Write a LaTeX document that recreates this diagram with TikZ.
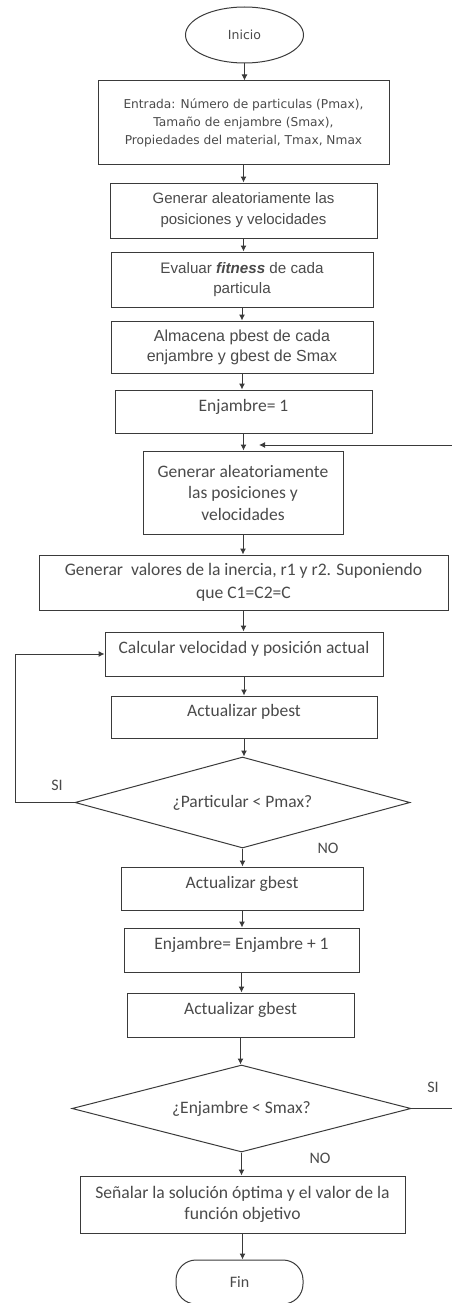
\documentclass[tikz,border=0pt]{standalone}
\usepackage{fontspec}
\setmainfont{Carlito}
\newfontfamily\arialf{Liberation Sans}
\newfontfamily\dejavuf{DejaVu Sans}
\usetikzlibrary{arrows.meta,shapes.geometric}
\definecolor{ln}{HTML}{3A3A3A}
\definecolor{tx}{HTML}{4A4A4A}
\tikzset{
  box/.style={draw=ln, line width=1pt, rectangle, align=center, inner sep=0pt, text=tx, font=\fontsize{17.5}{21.5}\selectfont},
  up/.style={text depth=13pt},
  dec/.style={draw=ln, line width=1pt, diamond, inner sep=0pt, text=tx, font=\fontsize{17.5}{21.5}\selectfont},
  arr/.style={draw=ln, line width=1pt, -{Latex[length=6pt,width=6pt]}},
  lab/.style={text=tx, font=\fontsize{16}{18}\selectfont, inner sep=0pt}
}
\begin{document}
\begin{tikzpicture}[x=1pt,y=-1pt]
\useasboundingbox (0,0) rectangle (451,1303);
\node[draw=ln, line width=1pt, ellipse, minimum width=118, minimum height=56, inner sep=0pt, text=tx, font=\dejavuf\fontsize{12.5}{14}\selectfont] (ini) at (244.5,35) {Inicio};
\node[box, minimum width=291, minimum height=83, font=\dejavuf\fontsize{12.2}{18}\selectfont] (b1) at (243.5,122.5) {Entrada: Número de particulas (Pmax),\\Tamaño de enjambre (Smax),\\Propiedades del material, Tmax, Nmax};
\node[box, minimum width=267, minimum height=55, font=\arialf\fontsize{15}{21}\selectfont] (b2) at (243.5,210.5) {Generar aleatoriamente las\\posiciones y velocidades};
\node[box, minimum width=262, minimum height=55, font=\arialf\fontsize{15.2}{20}\selectfont] (b3) at (242,279.5) {Evaluar \textbf{\textit{fitness}} de cada\\particula};
\node[box, minimum width=262, minimum height=52, font=\arialf\fontsize{16}{20}\selectfont] (b4) at (242,347) {Almacena pbest de cada\\enjambre y gbest de Smax};
\node[box, up, minimum width=257, minimum height=43] (b5) at (243.5,411.5) {Enjambre= 1};
\node[box, minimum width=200, minimum height=83] (b6) at (243,492.5) {Generar aleatoriamente\\las posiciones y\\velocidades};
\node[box, minimum width=409, minimum height=55, font=\fontsize{17.6}{23.5}\selectfont] (b7) at (243.5,582.5) {Generar\ \ valores de la inercia, r1 y r2. Suponiendo\\que C1=C2=C};
\node[box, up, minimum width=278, minimum height=44] (b8) at (244,654) {Calcular velocidad y posición actual};
\node[box, up, minimum width=266, minimum height=42] (b9) at (244,717) {Actualizar pbest};
\node[dec, shape aspect=3.68, minimum width=335, minimum height=91] (d1) at (242.5,802.5) {¿Particular < Pmax?};
\node[box, up, minimum width=242, minimum height=43] (b10) at (242,888.5) {Actualizar gbest};
\node[box, up, minimum width=235, minimum height=44] (b11) at (241.5,950) {Enjambre= Enjambre + 1};
\node[box, up, minimum width=227, minimum height=44] (b12) at (240.5,1015) {Actualizar gbest};
\node[dec, shape aspect=3.9, minimum width=339, minimum height=87] (d2) at (241.5,1108.5) {¿Enjambre < Smax?};
\node[box, minimum width=325, minimum height=57, font=\fontsize{17.6}{20.5}\selectfont] (b13) at (242.5,1204.5) {Señalar la solución óptima y el valor de la\\función objetivo};
\node[box, minimum width=127, minimum height=44, rounded corners=20pt, font=\fontsize{16}{18}\selectfont] (fin) at (239.5,1282) {Fin};

\coordinate (lp) at (15,0);
\coordinate (rp) at (453,445);
\coordinate (ret) at (259,445);

\draw[arr] (ini.south) -- (ini.south |- b1.north);
\draw[arr] (b1.south) -- (b1.south |- b2.north);
\draw[arr] (b2.south) -- (b2.south |- b3.north);
\draw[arr] (b3.south) -- (b3.south |- b4.north);
\draw[arr] (b4.south) -- (b4.south |- b5.north);
\draw[arr] (b5.south) -- (b5.south |- b6.north);
\draw[arr] (b6.south) -- (b6.south |- b7.north);
\draw[arr] (b7.south) -- (b7.south |- b8.north);
\draw[arr] (b8.south) -- (b8.south |- b9.north);
\draw[arr] (b9.south) -- (b9.south |- d1.north);
\draw[arr] (d1.south) -- (d1.south |- b10.north);
\draw[arr] (b10.south) -- (b10.south |- b11.north);
\draw[arr] (b11.south) -- (b11.south |- b12.north);
\draw[arr] (b12.south) -- (b12.south |- d2.north);
\draw[arr] (d2.south) -- (d2.south |- b13.north);
\draw[arr] (b13.south) -- (b13.south |- fin.north);

\draw[arr] (d1.west) -- (d1.west -| lp) |- (b8.west);
\draw[arr] (d2.east) -| (rp) -- (ret);

\node[lab] (si1) at (57,785) {SI};
\node[lab] (no1) at (328,848) {NO};
\node[lab] (si2) at (433,1087) {SI};
\node[lab] (no2) at (320,1158) {NO};
\end{tikzpicture}
\end{document}
